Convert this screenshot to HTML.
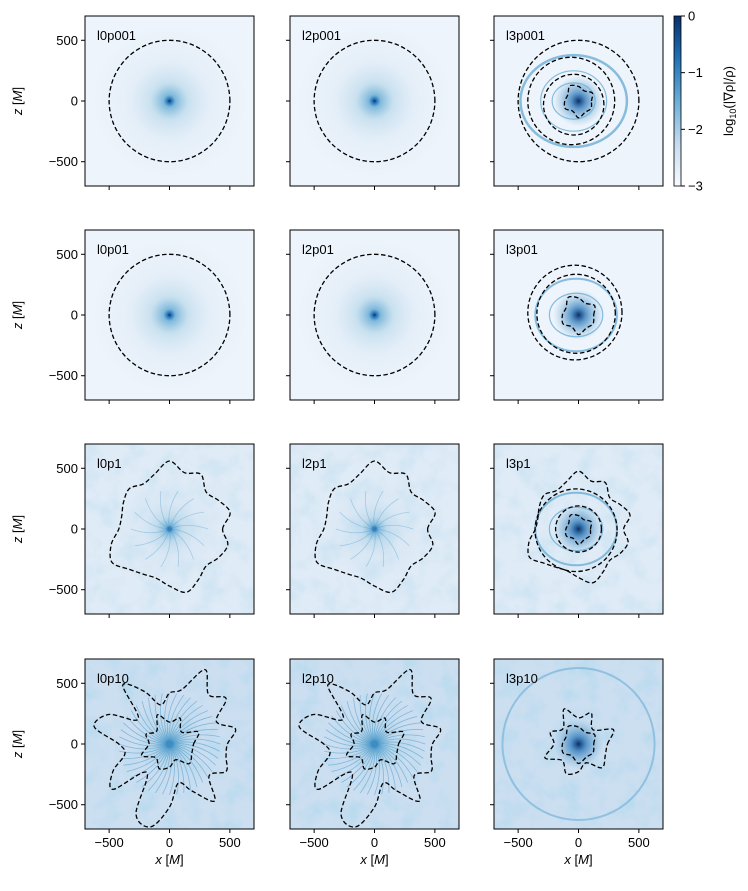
<!DOCTYPE html>
<html><head><meta charset="utf-8"><style>
body{margin:0;background:#fff;}
svg text{font-family:"Liberation Sans",sans-serif;fill:#000;}
</style></head><body>
<svg id="fig" width="748" height="886" viewBox="0 0 748 886" xmlns="http://www.w3.org/2000/svg">
<defs>
<radialGradient id="gSmooth" cx="50%" cy="50%" r="50%">
<stop offset="0" stop-color="#08306b" stop-opacity="1"/><stop offset="0.025" stop-color="#2171b5" stop-opacity="1"/><stop offset="0.08" stop-color="#6baed6" stop-opacity="0.85"/><stop offset="0.25" stop-color="#9ecae1" stop-opacity="0.45"/><stop offset="0.55" stop-color="#c6dbef" stop-opacity="0.2"/><stop offset="1" stop-color="#c6dbef" stop-opacity="0"/>
</radialGradient>
<radialGradient id="gCore" cx="50%" cy="50%" r="50%">
<stop offset="0" stop-color="#08306b" stop-opacity="1"/><stop offset="0.3" stop-color="#2171b5" stop-opacity="0.7"/><stop offset="1" stop-color="#6baed6" stop-opacity="0"/>
</radialGradient>
<linearGradient id="cbar" x1="0" y1="1" x2="0" y2="0">
<stop offset="0" stop-color="#f7fbff"/><stop offset="0.25" stop-color="#c6dbef"/><stop offset="0.5" stop-color="#6baed6"/><stop offset="0.75" stop-color="#2171b5"/><stop offset="1" stop-color="#08306b"/>
</linearGradient>
<filter id="noise" x="0" y="0" width="100%" height="100%">
<feTurbulence type="fractalNoise" baseFrequency="0.05" numOctaves="3" seed="4"/>
<feColorMatrix type="matrix" values="0 0 0 0 0.42  0 0 0 0 0.68  0 0 0 0 0.84  0 0 0 1.6 -0.7"/>
</filter>
</defs>
<g id="panels"></g>
<g>
<rect x="674" y="16" width="7" height="170" fill="url(#cbar)" stroke="#000" stroke-width="0.8"/>
<g id="cbticks"></g>
<text x="733" y="101" font-size="13" text-anchor="middle" transform="rotate(-90 733 101)">log<tspan font-size="9" dy="3">10</tspan><tspan dy="-3">(|∇ρ|/ρ)</tspan></text>
</g>
</svg>
<script>
const colLeft=[85,290,494], rowTop=[16,230,444,659], W=169, H=170;
const names=[["l0p001","l2p001","l3p001"],["l0p01","l2p01","l3p01"],["l0p1","l2p1","l3p1"],["l0p10","l2p10","l3p10"]];
const ticks=[-500,0,500];
const cbTicks=[0,-1,-2,-3];
// contour radii (M) at equally spaced angles, starting east, going counter-clockwise
const circleR=[500,500,500,500,500,500,500,500,500,500,500,500,500,500,500,500];
const p1Outer=[440,520,470,430,520,480,560,470,430,470,440,410,420,500,550,470,430,420,470,540,480,430,470,500];
const p10Outer=[480,560,430,600,520,680,460,420,330,480,620,330,560,640,420,380,520,600,300,640,700,520,330,430,600,420,520,480];
const p10Inner=[200,260,140,230,180,260,150,210,170,250,160,220,190,140,230,200];
const l3Rings=[[420,380],[260,250],[170,150]];
const l3pInner=[180,220,160,200,240,170,190,210,160,230,180,200];
const ns="http://www.w3.org/2000/svg";
const root=document.getElementById('panels');
function mk(tag,attrs,parent){const e=document.createElementNS(ns,tag);for(const k in attrs)e.setAttribute(k,attrs[k]);(parent||root).appendChild(e);return e;}
function sx(c,v){return colLeft[c]+W/2+v*(W/1400);}
function sy(r,v){return rowTop[r]+H/2-v*(H/1400);}
function polarPath(c,r,radii,ox,oy,sc){
  const n=radii.length,P=[];
  for(let i=0;i<n;i++){const a=2*Math.PI*i/n;const R=radii[i]*(sc||1);
    P.push([sx(c,(ox||0)+R*Math.cos(a)),sy(r,(oy||0)+R*Math.sin(a))]);}
  let d='M'+P[0][0].toFixed(1)+' '+P[0][1].toFixed(1);
  for(let i=0;i<n;i++){const p0=P[(i-1+n)%n],p1=P[i],p2=P[(i+1)%n],p3=P[(i+2)%n];
    const c1=[p1[0]+(p2[0]-p0[0])/6,p1[1]+(p2[1]-p0[1])/6],c2=[p2[0]-(p3[0]-p1[0])/6,p2[1]-(p3[1]-p1[1])/6];
    d+=`C${c1[0].toFixed(1)} ${c1[1].toFixed(1)} ${c2[0].toFixed(1)} ${c2[1].toFixed(1)} ${p2[0].toFixed(1)} ${p2[1].toFixed(1)}`;}
  return d+'Z';
}
for(let r=0;r<4;r++)for(let c=0;c<3;c++){
  const x0=colLeft[c],y0=rowTop[r];
  const g=mk('g',{});
  
  
  const cid='clip'+r+c;
  const cp=mk('clipPath',{id:cid},g);mk('rect',{x:x0,y:y0,width:W,height:H},cp);
  const inner=mk('g',{'clip-path':'url(#'+cid+')'},g);
  mk('rect',{x:x0,y:y0,width:W,height:H,fill:'#edf4fb'},inner);
  if(r>=2){mk('rect',{x:x0,y:y0,width:W,height:H,fill:'#c6dbef',opacity:r==3?0.85:0.35},inner);
    mk('rect',{x:x0,y:y0,width:W,height:H,filter:'url(#noise)',opacity:r==3?0.9:0.5},inner);}
  if(c<2){
    const rad=r<2?W*0.45:(r==2?W*0.3:W*0.4);
    mk('circle',{cx:sx(c,0),cy:sy(r,0),r:rad,fill:'url(#gSmooth)'},inner);
    if(r>=2){const N=r==3?44:14;for(let k=0;k<N;k++){const a=k*2*Math.PI/N;const L=(r==3?420:320);
      mk('path',{d:`M${sx(c,0)} ${sy(r,0)} Q${sx(c,L*0.5*Math.cos(a+0.4))} ${sy(r,L*0.5*Math.sin(a+0.4))} ${sx(c,L*Math.cos(a))} ${sy(r,L*Math.sin(a))}`,fill:'none',stroke:'#4292c6','stroke-width':0.8,opacity:r==3?0.5:0.35},inner);}}
  } else {
    mk('circle',{cx:sx(c,0),cy:sy(r,0),r:W*0.15,fill:'url(#gCore)'},inner);
    if(r<3){l3Rings.forEach((q,i)=>{if(r>0&&i==0)return;
      mk('ellipse',{cx:sx(c,r==0?-40:-20),cy:sy(r,0),rx:q[0]*W/1400*(r==0?1.05:1.3),ry:q[1]*W/1400*(r==0?1:1.2),fill:'none',stroke:'#6baed6','stroke-width':i==0?2.5:(r>0&&i==1?2:1.2),opacity:0.8},inner);});}
    else{mk('circle',{cx:sx(c,0),cy:sy(r,0),r:W*0.45,fill:'none',stroke:'#6baed6','stroke-width':2,opacity:0.6},inner);}
  }
  const dash={fill:'none',stroke:'#000','stroke-width':1.3,'stroke-dasharray':'4.5 2.5'};
  function contour(d){const p=mk('path',Object.assign({d:d},dash),inner);}
  if(c<2&&r<2)contour(polarPath(c,r,circleR));
  else if(c<2&&r==2)contour(polarPath(c,r,p1Outer));
  else if(c<2&&r==3){contour(polarPath(c,r,p10Outer));contour(polarPath(c,r,p10Inner));}
  else if(c==2){
    if(r==0){contour(polarPath(c,r,circleR,0,0));contour(polarPath(c,r,circleR,-60,0,0.72));contour(polarPath(c,r,circleR,-40,-30,0.5));contour(polarPath(c,r,l3pInner,0,0,0.6));}
    else if(r==1){contour(polarPath(c,r,circleR,-30,20,0.78));contour(polarPath(c,r,circleR,-20,10,0.65));contour(polarPath(c,r,l3pInner,0,0,0.7));}
    else if(r==2){contour(polarPath(c,r,p1Outer,0,0,0.85));contour(polarPath(c,r,circleR,-20,-10,0.68));contour(polarPath(c,r,circleR,0,0,0.38));contour(polarPath(c,r,l3pInner,0,0,0.55));}
    else{contour(polarPath(c,r,p10Inner,0,0,1.2));contour(polarPath(c,r,l3pInner,0,0,0.7));}
  }
  mk('rect',{x:x0,y:y0,width:W,height:H,fill:'none',stroke:'#000','stroke-width':1},g);
  const t=mk('text',{x:x0+12,y:y0+24,'font-size':13},g);t.textContent=names[r][c];
  
  
  ticks.forEach(v=>{
    mk('line',{x1:sx(c,v),x2:sx(c,v),y1:y0+H,y2:y0+H+4,stroke:'#000'},g);
    mk('line',{x1:x0,x2:x0-4,y1:sy(r,v),y2:sy(r,v),stroke:'#000'},g);
    if(r==3){const tx=mk('text',{x:sx(c,v),y:y0+H+18,'font-size':13,'text-anchor':'middle'},g);tx.textContent=v<0?'\u2212'+(-v):v;
      
      }
    if(c==0){const ty=mk('text',{x:x0-7,y:sy(r,v)+4.5,'font-size':13,'text-anchor':'end'},g);ty.textContent=v<0?'\u2212'+(-v):v;
      
      }
  });
  if(r==3){const xl=mk('text',{x:x0+W/2,y:y0+H+35,'font-size':13,'text-anchor':'middle'},g);xl.innerHTML='<tspan font-style="italic">x</tspan> [<tspan font-style="italic">M</tspan>]';
    
    }
  if(c==0){const yx=22,yy=y0+H/2;const yl=mk('text',{x:yx,y:yy,'font-size':13,'text-anchor':'middle',transform:`rotate(-90 ${yx} ${yy})`},g);yl.innerHTML='<tspan font-style="italic">z</tspan> [<tspan font-style="italic">M</tspan>]';
    
    }
}
const cbg=document.getElementById('cbticks');
cbTicks.forEach(v=>{const y=16+170*(-v/3);
  mk('line',{x1:681,x2:685,y1:y,y2:y,stroke:'#000'},cbg);
  const t=mk('text',{x:688,y:y+4.5,'font-size':13},cbg);t.textContent=v<0?'\u2212'+(-v):v;
  
  });
</script>
</body></html>
